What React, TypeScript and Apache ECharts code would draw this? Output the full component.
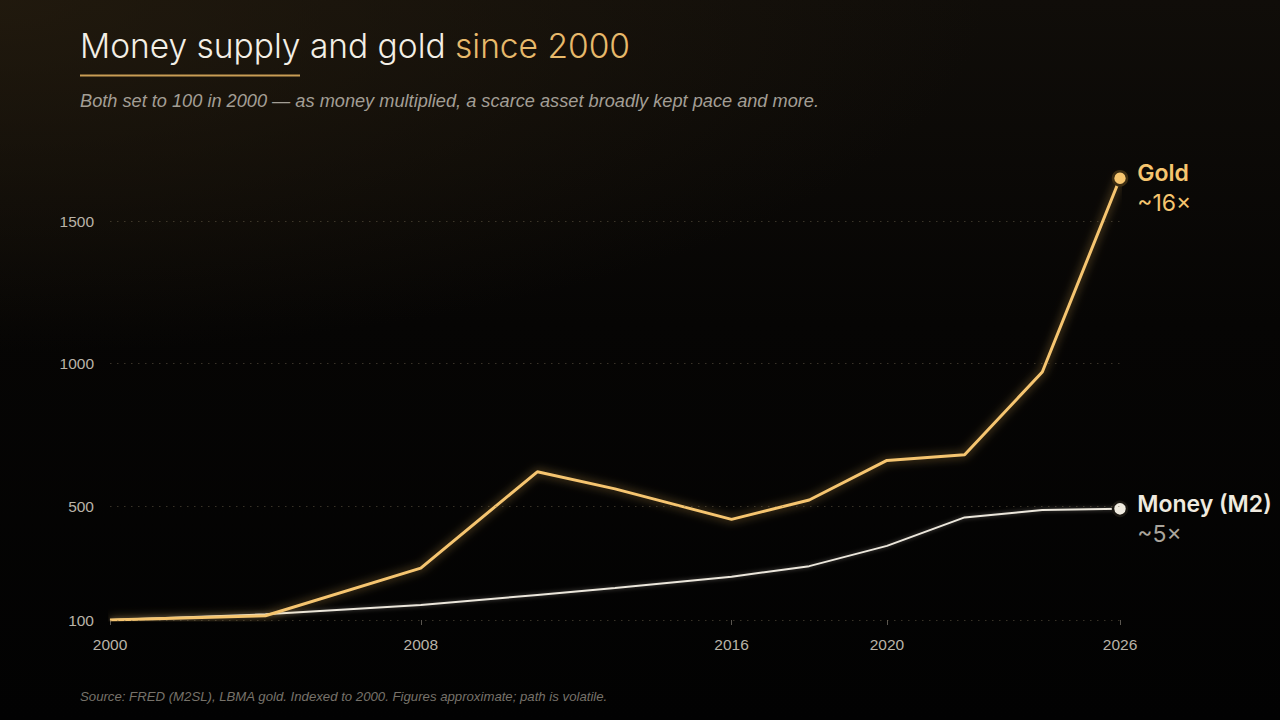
import React, { useEffect, useRef } from "react";
import * as echarts from "echarts";

// Index values, 2000 = 100
const years = [2000, 2004, 2008, 2011, 2013, 2016, 2018, 2020, 2022, 2024, 2026];
const gold = [100, 115, 282, 620, 560, 453, 521, 660, 680, 970, 1650];
const money = [100, 120, 153, 188, 212, 252, 289, 360, 460, 486, 490];

const xTicks = [2000, 2008, 2016, 2020, 2026];
const yTicks = [100, 500, 1000, 1500];

const goldName = "Gold";
const goldMultiple = "~16×";
const moneyName = "Money (M2)";
const moneyMultiple = "~5×";

const GOLD = "#f6c56f";
const CREAM = "#ece7dc";

function seriesData(values: number[], color: string, border: string, name: string, multiple: string, sub: string) {
  return values.map((v, i) => {
    const last = i === values.length - 1;
    if (!last) return [years[i], v];
    return {
      value: [years[i], v],
      symbol: "circle",
      symbolSize: 14,
      itemStyle: { color, borderColor: border, borderWidth: 2.5 },
      label: {
        show: true,
        position: "right",
        offset: [4, 10],
        formatter: `{n|${name}}\n{m|${multiple}}`,
        rich: {
          n: { fontFamily: "Inter", fontSize: 23, fontWeight: 600, color, lineHeight: 30 },
          m: { fontFamily: "Inter", fontSize: 23, fontWeight: 400, color: sub, lineHeight: 30, letterSpacing: 1 },
        },
      },
    };
  });
}

export default function App() {
  const ref = useRef<HTMLDivElement>(null);

  useEffect(() => {
    if (!ref.current) return;
    const chart = echarts.init(ref.current, undefined, { renderer: "svg" });
    chart.setOption({
      animation: false,
      backgroundColor: "transparent",
      grid: { left: 110, right: 160, top: 164, bottom: 100 },
      xAxis: {
        type: "value",
        min: 2000,
        max: 2026,
        axisLine: { show: false },
        splitLine: { show: false },
        axisTick: {
          show: true,
          length: 5,
          customValues: xTicks,
          lineStyle: { color: "#5a5650", width: 1 },
        },
        axisLabel: {
          customValues: xTicks,
          margin: 16,
          color: "#b9b3a8",
          fontFamily: "Liberation Sans",
          fontSize: 15.5,
          formatter: (v: number) => String(v),
        },
      },
      yAxis: {
        type: "value",
        min: 100,
        max: 1700,
        axisLine: { show: false },
        axisTick: { show: false },
        splitLine: { show: false },
        axisLabel: {
          customValues: yTicks,
          margin: 16,
          color: "#b9b3a8",
          fontFamily: "Liberation Sans",
          fontSize: 15.5,
          formatter: (v: number) => String(v),
        },
      },
      graphic: [
        {
          type: "text",
          left: 80,
          top: 29,
          style: {
            text: "{w|Money supply and gold }{g|since 2000}",
            rich: {
              w: { fontFamily: "Inter", fontSize: 33.5, fontWeight: 300, fill: "#f3efe6" },
              g: { fontFamily: "Inter", fontSize: 33.5, fontWeight: 300, fill: "#e7b96b" },
            },
          },
        },
        { type: "rect", shape: { x: 80, y: 74.5, width: 220, height: 2 }, style: { fill: "#c99d55" } },
        {
          type: "text",
          left: 80,
          top: 92,
          style: {
            text: "Both set to 100 in 2000 — as money multiplied, a scarce asset broadly kept pace and more.",
            fontFamily: "Liberation Sans",
            fontStyle: "italic",
            fontSize: 18.2,
            fill: "#a39e95",
          },
        },
        {
          type: "text",
          left: 80,
          top: 690,
          style: {
            text: "Source: FRED (M2SL), LBMA gold. Indexed to 2000. Figures approximate; path is volatile.",
            fontFamily: "Liberation Sans",
            fontStyle: "italic",
            fontSize: 13.2,
            fill: "#77726a",
          },
        },
      ],
      series: [
        {
          name: moneyName,
          type: "line",
          showSymbol: true,
          symbol: "none",
          z: 2,
          lineStyle: { color: CREAM, width: 2, shadowBlur: 4, shadowColor: "rgba(255,250,235,0.35)" },
          data: seriesData(money, "#efeadf", "#1a1712", moneyName, moneyMultiple, "#aaa59c"),
          markLine: {
            silent: true,
            symbol: "none",
            label: { show: false },
            lineStyle: { color: "rgba(120,108,85,0.45)", type: [1.5, 5.5], width: 1.2 },
            data: yTicks.map((t) => ({ yAxis: t })),
          },
        },
        {
          name: goldName,
          type: "line",
          showSymbol: true,
          symbol: "none",
          z: 3,
          lineStyle: { color: GOLD, width: 3, shadowBlur: 10, shadowColor: "rgba(246,190,90,0.6)" },
          data: seriesData(gold, GOLD, "#3b2c12", goldName, goldMultiple, GOLD),
        },
      ],
    });
    return () => chart.dispose();
  }, []);

  return (
    <div
      style={{
        position: "fixed",
        left: 0,
        top: 0,
        width: 1280,
        height: 720,
        background:
          "radial-gradient(110% 70% at 0% 0%, rgba(38,29,15,0.75) 0%, rgba(0,0,0,0) 70%), linear-gradient(180deg, #100d09 0%, #060504 45%, #020202 100%)",
      }}
    >
      <div ref={ref} style={{ width: 1280, height: 720 }} />
    </div>
  );
}
